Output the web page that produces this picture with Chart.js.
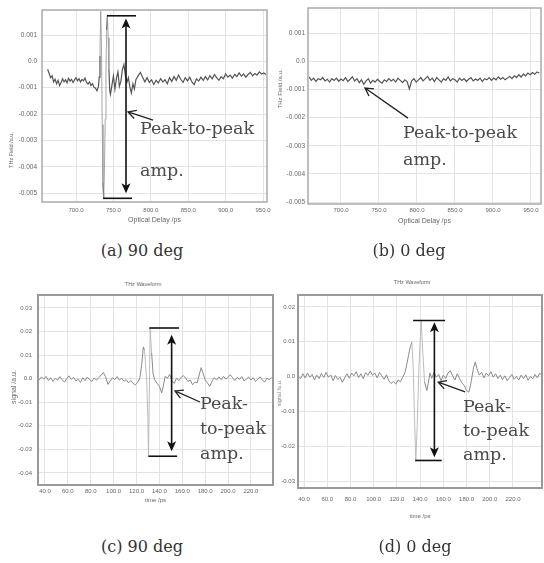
<!DOCTYPE html>
<html>
<head>
<meta charset="utf-8">
<script src="https://cdn.jsdelivr.net/npm/chart.js@4.4.1/dist/chart.umd.min.js"></script>
<style>
  html, body { margin: 0; padding: 0; background: #fff; }
  #fig { position: relative; width: 544px; height: 563px; overflow: hidden; font-family: "Liberation Sans", Arial, sans-serif; }
  canvas { position: absolute; }
  .lbl { position: absolute; font-family: "DejaVu Serif", serif; color: #4a4a4a; font-size: 17.5px; white-space: nowrap; }
  .cap { position: absolute; font-family: "DejaVu Serif", serif; color: #333; font-size: 16px; line-height: 16px; white-space: nowrap; transform: translateX(-50%); }
  .small { position: absolute; color: #666; line-height: 1; white-space: nowrap; transform: translate(-50%, -50%); }
  .ytitle { position: absolute; color: #666; line-height: 1; white-space: nowrap; transform: translate(-50%, -50%) rotate(-90deg); }
</style>
</head>
<body>
<div id="fig">
  <canvas id="chartA" width="272" height="228" style="left:0;top:0"></canvas>
  <canvas id="chartB" width="276" height="228" style="left:268px;top:0"></canvas>
  <canvas id="chartC" width="276" height="215" style="left:0;top:290px"></canvas>
  <canvas id="chartD" width="274" height="232" style="left:270px;top:290px"></canvas>

  <div class="ytitle" style="left:12px;top:150px;font-size:5.5px">THz Field /a.u.</div>
  <div class="ytitle" style="left:280px;top:89px;font-size:6px">THz Field /a.u.</div>
  <div class="ytitle" style="left:13px;top:387px;font-size:7px">signal /a.u.</div>
  <div class="ytitle" style="left:280px;top:393px;font-size:5.5px;color:#888">signal /a.u.</div>
  <div class="small" style="left:143px;top:285px;font-size:5.5px">THz Waveform</div>
  <div class="small" style="left:412px;top:283px;font-size:5.5px">THz Waveform</div>

  <div class="lbl" style="left:140px;top:107px;line-height:42px">Peak-to-peak<br>amp.</div>
  <div class="lbl" style="left:403px;top:119px;line-height:27px">Peak-to-peak<br>amp.</div>
  <div class="lbl" style="left:200px;top:391px;line-height:25px">Peak-<br>to-peak<br>amp.</div>
  <div class="lbl" style="left:463px;top:394px;line-height:24px">Peak-<br>to-peak<br>amp.</div>

  <div class="cap" style="left:142px;top:243px">(a) 90 deg</div>
  <div class="cap" style="left:409px;top:243px">(b) 0 deg</div>
  <div class="cap" style="left:142px;top:539px">(c) 90 deg</div>
  <div class="cap" style="left:415px;top:539px">(d) 0 deg</div>
</div>
<script>
// (a) 90 deg - optical delay scan
const aTime = [
  662, 664, 666, 668, 670, 672, 674, 676, 678, 680,
  682, 684, 686, 688, 690, 692, 694, 696, 698, 700,
  702, 704, 706, 708, 710, 712, 714, 716, 718, 720,
  722, 724, 726, 728, 730, 731, 732, 733, 734, 735,
  736, 737, 738, 739, 740, 741, 742, 743, 744, 745,
  746, 748, 750, 752, 754, 756, 758, 760, 762, 764,
  766, 768, 770, 772, 774, 776, 778, 780, 783, 786,
  789, 792, 795, 798, 801, 804, 807, 810, 813, 816,
  819, 822, 825, 828, 831, 834, 837, 840, 843, 846,
  849, 852, 855, 858, 861, 864, 867, 870, 873, 876,
  879, 882, 885, 888, 891, 894, 897, 900, 903, 906,
  909, 912, 915, 918, 921, 924, 927, 930, 933, 936,
  939, 942, 945, 948, 951, 954
];
const aField = [
  -0.00030, -0.00045, -0.00062, -0.00055, -0.00078, -0.00068, -0.00085, -0.00072, -0.00092, -0.00080,
  -0.00066, -0.00078, -0.00070, -0.00082, -0.00064, -0.00075, -0.00068, -0.00080, -0.00070, -0.00062,
  -0.00074, -0.00066, -0.00078, -0.00069, -0.00074, -0.00063, -0.00080, -0.00086, -0.00078, -0.00092,
  -0.00085, -0.00098, -0.00102, -0.00112, -0.00095, -0.00060, 0.00020, 0.00190, 0.00060, -0.00240,
  -0.00460, -0.00520, -0.00410, -0.00220, -0.00040, 0.00120, 0.00175, 0.00090, -0.00030, -0.00110,
  -0.00125, -0.00090, -0.00055, -0.00105, -0.00065, -0.00040, -0.00095, -0.00075, -0.00030, -0.00012,
  -0.00055, -0.00080, -0.00062, -0.00098, -0.00120, -0.00085, -0.00105, -0.00070, -0.00055, -0.00042,
  -0.00060, -0.00078, -0.00062, -0.00080, -0.00070, -0.00088, -0.00072, -0.00082, -0.00066, -0.00078,
  -0.00070, -0.00085, -0.00062, -0.00076, -0.00058, -0.00072, -0.00052, -0.00068, -0.00080, -0.00062,
  -0.00074, -0.00060, -0.00078, -0.00088, -0.00066, -0.00075, -0.00060, -0.00072, -0.00058, -0.00070,
  -0.00054, -0.00066, -0.00050, -0.00062, -0.00072, -0.00058, -0.00066, -0.00048, -0.00060, -0.00052,
  -0.00064, -0.00050, -0.00058, -0.00044, -0.00056, -0.00048, -0.00060, -0.00050, -0.00042, -0.00055,
  -0.00046, -0.00052, -0.00040, -0.00048, -0.00044, -0.00050
];

// (b) 0 deg - optical delay scan
const bTime = [
  658, 661, 664, 667, 670, 673, 676, 679, 682, 685,
  688, 691, 694, 697, 700, 703, 706, 709, 712, 715,
  718, 721, 724, 727, 730, 733, 736, 739, 742, 745,
  748, 751, 754, 757, 760, 763, 766, 769, 772, 775,
  778, 781, 784, 787, 790, 793, 796, 799, 802, 805,
  808, 811, 814, 817, 820, 823, 826, 829, 832, 835,
  838, 841, 844, 847, 850, 853, 856, 859, 862, 865,
  868, 871, 874, 877, 880, 883, 886, 889, 892, 895,
  898, 901, 904, 907, 910, 913, 916, 919, 922, 925,
  928, 931, 934, 937, 940, 943, 946, 949, 952, 955,
  958, 961
];
const bField = [
  -0.00055, -0.00068, -0.00060, -0.00072, -0.00062, -0.00066, -0.00058, -0.00070, -0.00064, -0.00074,
  -0.00062, -0.00068, -0.00060, -0.00071, -0.00063, -0.00069, -0.00058, -0.00072, -0.00064, -0.00055,
  -0.00070, -0.00062, -0.00076, -0.00066, -0.00082, -0.00070, -0.00062, -0.00078, -0.00068, -0.00074,
  -0.00064, -0.00072, -0.00078, -0.00066, -0.00072, -0.00062, -0.00070, -0.00064, -0.00074, -0.00060,
  -0.00068, -0.00076, -0.00066, -0.00072, -0.00098, -0.00070, -0.00062, -0.00074, -0.00066, -0.00058,
  -0.00070, -0.00062, -0.00054, -0.00068, -0.00060, -0.00072, -0.00058, -0.00066, -0.00074, -0.00062,
  -0.00068, -0.00056, -0.00070, -0.00062, -0.00066, -0.00074, -0.00060, -0.00068, -0.00062, -0.00072,
  -0.00064, -0.00058, -0.00070, -0.00063, -0.00068, -0.00060, -0.00072, -0.00062, -0.00066, -0.00058,
  -0.00068, -0.00060, -0.00066, -0.00056, -0.00064, -0.00058, -0.00066, -0.00060, -0.00054, -0.00062,
  -0.00052, -0.00058, -0.00048, -0.00056, -0.00046, -0.00052, -0.00042, -0.00048, -0.00040, -0.00046,
  -0.00038, -0.00042
];

// (c) 90 deg - THz waveform
const cTime = [
  35, 37, 39, 41, 43, 45, 47, 49, 51, 53,
  55, 57, 59, 61, 63, 65, 67, 69, 71, 73,
  75, 77, 79, 81, 83, 85, 87, 89, 91, 93,
  95, 97, 99, 101, 103, 105, 107, 109, 111, 113,
  115, 117, 119, 121, 123, 124.5, 126, 127, 128.8, 129.8,
  130.5, 131.2, 131.9, 133.2, 134.5, 136, 138, 140, 142, 143.5,
  145, 147, 149, 151, 153, 155, 157, 159, 161, 163,
  165, 167, 169, 171, 173, 175, 176.5, 178, 180, 182,
  184, 186, 188, 190, 192, 194, 196, 198, 200, 202,
  204, 206, 208, 210, 212, 214, 216, 218, 220, 222,
  224, 226, 228, 230, 232, 234, 236, 238
];
const cSignal = [
  -0.0005, 0.0008, -0.0002, 0.0010, -0.0008, 0.0004, -0.0012, 0.0002, -0.0006, 0.0009,
  -0.0004, -0.0015, 0.0000, 0.0012, -0.0003, 0.0006, -0.0010, -0.0002, -0.0016, 0.0004,
  -0.0008, 0.0007, -0.0004, -0.0012, 0.0003, -0.0006, 0.0005, 0.0014, 0.0026, 0.0008,
  -0.0024, -0.0010, 0.0004, -0.0004, 0.0009, -0.0006, 0.0002, -0.0011, -0.0004, -0.0018,
  -0.0008, -0.0020, -0.0026, -0.0016, 0.0005, 0.0060, 0.0135, 0.0120, 0.0005, -0.0150,
  -0.0330, -0.0060, 0.0215, 0.0110, 0.0020, -0.0005, -0.0020, -0.0032, -0.0060, -0.0030,
  0.0010, 0.0002, 0.0018, -0.0010, -0.0020, 0.0003, -0.0008, 0.0006, 0.0013, 0.0002,
  -0.0012, -0.0006, -0.0026, -0.0014, -0.0018, 0.0020, 0.0047, 0.0025, -0.0005, -0.0018,
  -0.0032, -0.0012, 0.0005, -0.0006, 0.0008, -0.0004, 0.0010, -0.0002, 0.0006, 0.0017,
  0.0004, -0.0008, 0.0006, -0.0003, 0.0009, -0.0010, -0.0002, 0.0007, -0.0006, 0.0004,
  -0.0012, -0.0002, 0.0008, -0.0006, -0.0014, 0.0002, -0.0004, 0.0005
];

// (d) 0 deg - THz waveform
const dTime = [
  35, 37, 39, 41, 43, 45, 47, 49, 51, 53,
  55, 57, 59, 61, 63, 65, 67, 69, 71, 73,
  75, 77, 79, 81, 83, 85, 87, 89, 91, 93,
  95, 97, 99, 101, 103, 105, 107, 109, 111, 113,
  115, 117, 119, 121, 123, 125, 127, 128.5, 130, 131.5,
  132.9, 134, 135.2, 136.3, 137.5, 139, 140.9, 142.3, 143.8, 145.8,
  147, 148.5, 150, 152, 154, 156, 158, 160, 162, 164,
  166, 168, 170, 172, 174, 176, 178, 180, 182, 184,
  186, 187.5, 189, 191, 193, 195, 197, 199, 201, 203,
  205, 207, 209, 211, 213, 215, 217, 219, 221, 223,
  225, 227, 229, 231, 233, 235, 237, 239, 241, 243, 245
];
const dSignal = [
  0.0000, -0.0006, 0.0008, -0.0004, 0.0010, -0.0002, 0.0006, -0.0010, 0.0004, -0.0006,
  0.0009, -0.0003, 0.0012, -0.0002, 0.0005, -0.0012, 0.0003, -0.0008, -0.0002, -0.0017,
  -0.0004, 0.0008, -0.0005, 0.0010, 0.0002, 0.0014, -0.0003, 0.0008, -0.0006, 0.0011,
  0.0003, 0.0016, 0.0004, 0.0010, -0.0004, 0.0012, 0.0002, -0.0008, 0.0005, -0.0012,
  -0.0020, -0.0014, -0.0022, -0.0010, -0.0015, -0.0002, 0.0012, 0.0035, 0.0060, 0.0085,
  0.0099, 0.0030, -0.0120, -0.0241, -0.0140, 0.0030, 0.0161, 0.0070, -0.0015, -0.0040,
  -0.0020, 0.0010, -0.0005, 0.0012, -0.0002, 0.0006, -0.0012, 0.0004, -0.0006, 0.0010,
  0.0017, 0.0002, -0.0010, 0.0008, -0.0006, -0.0018, -0.0026, -0.0040, -0.0045, -0.0015,
  0.0025, 0.0042, 0.0022, 0.0004, 0.0012, -0.0004, 0.0010, 0.0002, 0.0014, -0.0002,
  0.0008, -0.0006, 0.0004, -0.0009, 0.0002, -0.0012, -0.0003, 0.0006, -0.0008, 0.0000,
  -0.0010, 0.0004, -0.0006, 0.0005, -0.0011, 0.0000, -0.0007, 0.0006, -0.0004, 0.0010, 0.0003
];

// tick values and labels
const delayTicks = [700, 750, 800, 850, 900, 950];
const delayLabels = ['700.0', '750.0', '800.0', '850.0', '900.0', '950.0'];
const fieldTicks = [-0.005, -0.004, -0.003, -0.002, -0.001, 0, 0.001];
const fieldLabels = ['-0.005', '-0.004', '-0.003', '-0.002', '-0.001', '0.0', '0.001'];
const timeTicks = [40, 60, 80, 100, 120, 140, 160, 180, 200, 220];
const timeLabels = ['40.0', '60.0', '80.0', '100.0', '120.0', '140.0', '160.0', '180.0', '200.0', '220.0'];
const cSigTicks = [-0.04, -0.03, -0.02, -0.01, 0, 0.01, 0.02, 0.03];
const cSigLabels = ['-0.04', '-0.03', '-0.02', '-0.01', '0.0', '0.01', '0.02', '0.03'];
const dSigTicks = [-0.03, -0.02, -0.01, 0, 0.01, 0.02];
const dSigLabels = ['-0.03', '-0.02', '-0.01', '0.0', '0.01', '0.02'];

// peak-to-peak markers in data units
// bars: [xStart, xEnd, y]  span: [x, yTop, yBottom]  pointer: [xFrom, yFrom, xTo, yTo]
const aPeakBar = [741.4, 780.2, 0.00173];
const aTroughBar = [736.1, 774.9, -0.0052];
const aSpan = [766.8, 0.00163, -0.00501];
const aPointer = [803, -0.00223, 769.5, -0.00192];
const bPointer = [788.2, -0.00202, 731.6, -0.00095];
const cPeakBar = [131.2, 157.2, 0.0215];
const cTroughBar = [130.4, 155.5, -0.0329];
const cSpan = [150.7, 0.0186, -0.0308];
const cPointer = [175.5, -0.0099, 153.6, -0.0052];
const dPeakBar = [134, 161.5, 0.0161];
const dTroughBar = [135.7, 158.6, -0.0241];
const dSpan = [152.3, 0.0156, -0.0232];
const dPointer = [178.8, -0.0044, 155.6, -0.0016];

Chart.defaults.font.family = '"Liberation Sans", Arial, sans-serif';

// frame + peak-to-peak arrows
function peakMarks(m) {
  return {
    id: 'peakMarks',
    afterDatasetsDraw(chart) {
      const { ctx, chartArea: area, scales } = chart;
      const px = v => scales.x.getPixelForValue(v);
      const py = v => scales.y.getPixelForValue(v);
      ctx.save();
      ctx.strokeStyle = m.frame;
      ctx.lineWidth = m.frameWidth;
      ctx.strokeRect(area.left, area.top, area.width, area.height);

      ctx.strokeStyle = '#111';
      ctx.fillStyle = '#111';
      ctx.lineWidth = 1.6;
      [m.peak, m.trough].forEach(b => {
        if (!b) return;
        ctx.beginPath();
        ctx.moveTo(px(b[0]), py(b[2]));
        ctx.lineTo(px(b[1]), py(b[2]));
        ctx.stroke();
      });
      if (m.span) {
        const sx = px(m.span[0]), top = py(m.span[1]), bot = py(m.span[2]);
        ctx.beginPath();
        ctx.moveTo(sx, top + 7);
        ctx.lineTo(sx, bot - 7);
        ctx.stroke();
        [[top, 1], [bot, -1]].forEach(([tip, d]) => {
          ctx.beginPath();
          ctx.moveTo(sx, tip);
          ctx.lineTo(sx - 4.5, tip + 10 * d);
          ctx.lineTo(sx, tip + 7.5 * d);
          ctx.lineTo(sx + 4.5, tip + 10 * d);
          ctx.closePath();
          ctx.fill();
        });
      }
      if (m.pointer) {
        const x0 = px(m.pointer[0]), y0 = py(m.pointer[1]);
        const x1 = px(m.pointer[2]), y1 = py(m.pointer[3]);
        const ang = Math.atan2(y0 - y1, x0 - x1);
        ctx.lineWidth = 1.3;
        ctx.strokeStyle = '#222';
        ctx.beginPath();
        ctx.moveTo(x0, y0);
        ctx.lineTo(x1, y1);
        ctx.moveTo(x1 + 9 * Math.cos(ang + 0.5), y1 + 9 * Math.sin(ang + 0.5));
        ctx.lineTo(x1, y1);
        ctx.lineTo(x1 + 9 * Math.cos(ang - 0.5), y1 + 9 * Math.sin(ang - 0.5));
        ctx.stroke();
      }
      ctx.restore();
    }
  };
}

function makeChart(id, p) {
  return new Chart(document.getElementById(id), {
    type: 'line',
    data: {
      datasets: [{
        data: p.xs.map((x, i) => ({ x, y: p.ys[i] })),
        borderColor: p.color,
        borderWidth: p.lw,
        pointRadius: 0,
        tension: 0,
        // the fast pulse swings were recorded as faint hairlines
        segment: {
          borderColor: c => Math.abs(c.p1.y - c.p0.y) > 22 ? p.steepColor : undefined,
          borderWidth: c => Math.abs(c.p1.y - c.p0.y) > 22 ? 0.9 : undefined
        }
      }]
    },
    options: {
      responsive: false,
      animation: false,
      devicePixelRatio: 1,
      layout: { padding: { top: p.padTop, right: p.padRight, left: 0, bottom: 0 } },
      plugins: { legend: { display: false }, tooltip: { enabled: false } },
      scales: {
        x: {
          type: 'linear', min: p.xMin, max: p.xMax,
          afterBuildTicks: s => { s.ticks = p.xTicks.map(v => ({ value: v })); },
          afterFit: s => { s.height = p.xH; s.paddingLeft = 0; s.paddingRight = 0; },
          ticks: { autoSkip: false, maxRotation: 0, padding: p.xPad, color: '#666', font: { size: 6 },
                   callback: (v, i) => p.xLabels[i] },
          grid: { color: '#e3e3e3', drawTicks: false },
          border: { display: false },
          title: { display: true, text: p.xTitle, color: '#666', font: { size: p.xTitleSize },
                   padding: { top: 0, bottom: p.xTitlePad } }
        },
        y: {
          type: 'linear', min: p.yMin, max: p.yMax,
          afterBuildTicks: s => { s.ticks = p.yTicks.map(v => ({ value: v })); },
          afterFit: s => { s.width = p.yW; s.paddingTop = 0; s.paddingBottom = 0; },
          ticks: { autoSkip: false, padding: p.yPad, color: '#666', font: { size: p.yTickSize },
                   callback: (v, i) => p.yLabels[i] },
          grid: { color: '#e3e3e3', drawTicks: false },
          border: { display: false }
        }
      }
    },
    plugins: [peakMarks(p.marks)]
  });
}

makeChart('chartA', {
  xs: aTime, ys: aField, color: '#555', steepColor: '#9c9c9c', lw: 1.2,
  xMin: 654.5, xMax: 955.3, yMin: -0.00534, yMax: 0.00195,
  xTicks: delayTicks, xLabels: delayLabels, yTicks: fieldTicks, yLabels: fieldLabels,
  padTop: 10, padRight: 5, yW: 42, xH: 26, xPad: 5, yPad: 5, yTickSize: 6.5,
  xTitle: 'Optical Delay /ps', xTitleSize: 7, xTitlePad: 4,
  marks: { frame: '#aaa', frameWidth: 1.5, peak: aPeakBar, trough: aTroughBar, span: aSpan, pointer: aPointer }
});

makeChart('chartB', {
  xs: bTime, ys: bField, color: '#555', steepColor: '#9c9c9c', lw: 1.2,
  xMin: 656.6, xMax: 963.2, yMin: -0.00507, yMax: 0.00189,
  xTicks: delayTicks, xLabels: delayLabels, yTicks: fieldTicks, yLabels: fieldLabels,
  padTop: 8, padRight: 3, yW: 40, xH: 24, xPad: 3, yPad: 3, yTickSize: 6.5,
  xTitle: 'Optical Delay /ps', xTitleSize: 7, xTitlePad: 3,
  marks: { frame: '#aaa', frameWidth: 1.5, pointer: bPointer }
});

makeChart('chartC', {
  xs: cTime, ys: cSignal, color: '#8a8a8a', steepColor: '#b4b4b4', lw: 1,
  xMin: 33.9, xMax: 239.3, yMin: -0.0451, yMax: 0.0355,
  xTicks: timeTicks, xLabels: timeLabels, yTicks: cSigTicks, yLabels: cSigLabels,
  padTop: 5, padRight: 3, yW: 38, xH: 20, xPad: 3, yPad: 6, yTickSize: 6,
  xTitle: 'time /ps', xTitleSize: 6, xTitlePad: 1,
  marks: { frame: '#999', frameWidth: 2, peak: cPeakBar, trough: cTroughBar, span: cSpan, pointer: cPointer }
});

makeChart('chartD', {
  xs: dTime, ys: dSignal, color: '#8a8a8a', steepColor: '#b4b4b4', lw: 1,
  xMin: 34.8, xMax: 245, yMin: -0.0320, yMax: 0.0234,
  xTicks: timeTicks, xLabels: timeLabels, yTicks: dSigTicks, yLabels: dSigLabels,
  padTop: 5, padRight: 2, yW: 28, xH: 34, xPad: 8, yPad: 3, yTickSize: 6,
  xTitle: 'time /ps', xTitleSize: 6, xTitlePad: 2,
  marks: { frame: '#999', frameWidth: 2, peak: dPeakBar, trough: dTroughBar, span: dSpan, pointer: dPointer }
});
</script>
</body>
</html>
